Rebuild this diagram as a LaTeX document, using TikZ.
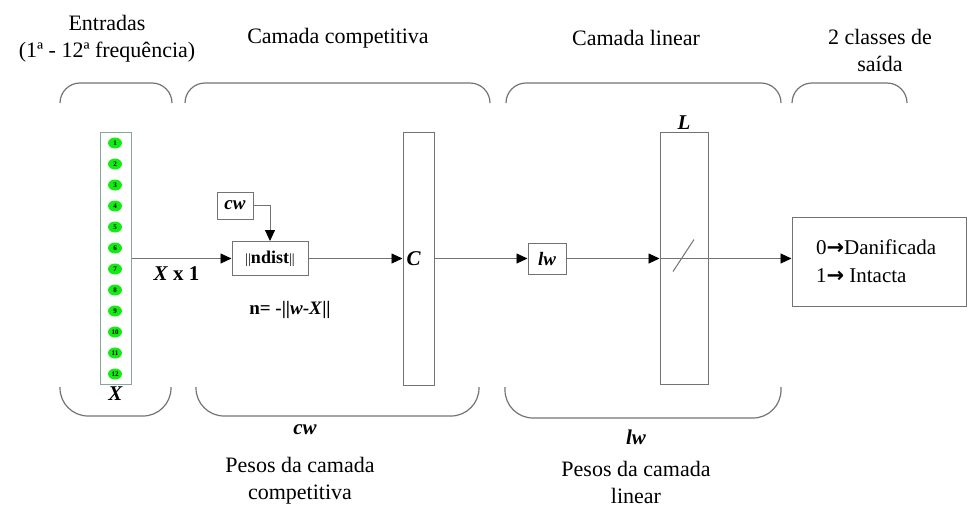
\documentclass[tikz,border=0pt]{standalone}
\usepackage{fontspec}
\setmainfont{Liberation Serif}
\newfontfamily\arrowfont{DejaVu Sans}
\usetikzlibrary{arrows.meta,positioning,shapes.geometric}
\definecolor{linegray}{RGB}{115,115,115}
\definecolor{dotgreen}{RGB}{20,235,20}
\definecolor{colframe}{RGB}{135,170,150}
\newcommand{\outarrow}{{\arrowfont\bfseries →}}

\begin{document}
\begin{tikzpicture}[x=1pt,y=-1pt,
  box/.style={draw=linegray, line width=1pt, inner sep=0pt},
  brace/.style={draw=linegray, line width=1.2pt},
  flow/.style={draw=linegray, line width=0.9pt, -{Triangle[length=11pt,width=10pt,color=black]}},
  lbl/.style={font=\fontsize{22}{27}\selectfont, align=center},
  sym/.style={font=\fontsize{21}{25}\selectfont\bfseries\itshape, inner sep=1pt},
  dot/.style={ellipse, fill=dotgreen, minimum width=14pt, minimum height=11pt, inner sep=0pt, font=\fontsize{7}{7}\selectfont\bfseries}]
\useasboundingbox (0,0) rectangle (968,507);
% Headings
\node[lbl] (inlbl) at (107,39) {Entradas\\(1ª - 12ª frequência)};
\node[lbl] (complbl) at (338,38) {Camada competitiva};
\node[lbl] (linlbl) at (636,38) {Camada linear};
\node[lbl] (outlbl) at (880,50) {2 classes de\\saída};
% Top brackets
\draw[brace, rounded corners=20pt] (60,103) -- (60,83) -- (172,83) -- (172,103);
\draw[brace, rounded corners=20pt] (185,103) -- (185,83) -- (490,83) -- (490,103);
\draw[brace, rounded corners=20pt] (506,103) -- (506,83) -- (781,83) -- (781,103);
\draw[brace, rounded corners=20pt] (792,103) -- (792,83) -- (907,83) -- (907,103);
% Bottom brackets
\draw[brace, rounded corners=28pt] (60,387) -- (60,416) -- (171,416) -- (171,387);
\draw[brace, rounded corners=28pt] (196,387) -- (196,416) -- (479,416) -- (479,387);
\draw[brace, rounded corners=28pt] (505,387) -- (505,418) -- (781,418) -- (781,387);
% Input column
\node[draw=colframe, line width=1pt, minimum width=31pt, minimum height=252pt] (X) at (115.5,258.5) {};
\foreach \i in {1,...,12} {\node[dot] (d\i) at (115,{143+21*(\i-1)}) {\i};}
\node[sym, below=1pt of X.south] (Xlbl) {X};
% Competitive layer
\node[box, minimum width=36pt, minimum height=27pt, font=\fontsize{19}{19}\selectfont\bfseries\itshape] (cw) at (235,205.5) {cw};
\node[box, minimum width=76pt, minimum height=34pt, font=\fontsize{18}{18}\selectfont\bfseries] (ndist) at (270,258.5) {{\fontsize{14}{14}\selectfont\mdseries||}ndist{\fontsize{14}{14}\selectfont\mdseries||}};
\node[box, minimum width=31pt, minimum height=253pt] (C) at (418.5,258.5) {};
\node[sym, right=3pt of C.west] (Clbl) {C};
\node[font=\fontsize{19}{19}\selectfont\bfseries] (neq) at (290,310) {n= -||\textit{w}-\textit{X}||};
% Linear layer
\node[box, minimum width=38pt, minimum height=31pt, font=\fontsize{19}{19}\selectfont\bfseries\itshape] (lw) at (547,258.5) {lw};
\node[box, minimum width=48pt, minimum height=252pt] (L) at (684,258.5) {};
\node[sym, above=1pt of L.north] (Llbl) {L};
\draw[linegray, line width=1pt] ([shift={(-11,13)}]L.center) -- ([shift={(10,-19)}]L.center);
% Output box
\node[box, minimum width=174pt, minimum height=89pt] (out) at (879,261.5) {};
\node[font=\fontsize{21}{28}\selectfont, align=left, anchor=west] (outtxt) at ([xshift=21pt]out.west) {0\outarrow Danificada\\1\outarrow\ Intacta};
% Connections
\draw[flow] (X.east) -- (ndist.west) node[sym, pos=0.45, below=7pt] (xlbl) {X\textup{ x 1}};
\draw[flow] (cw.east) -| (ndist.north);
\draw[flow] (ndist.east) -- (C.west);
\draw[flow] (C.east) -- (lw.west);
\draw[flow] (lw.east) -- (L.west);
\draw[flow] (L.west) -- (L.west -| out.west);
% Weight labels
\node[sym] (cwlbl) at (305,430) {cw};
\node[lbl] (cwtxt) at (300,481) {Pesos da camada\\competitiva};
\node[sym] (lwlbl) at (636,437) {lw};
\node[lbl] (lwtxt) at (636,482) {Pesos da camada\\linear};
\end{tikzpicture}
\end{document}
